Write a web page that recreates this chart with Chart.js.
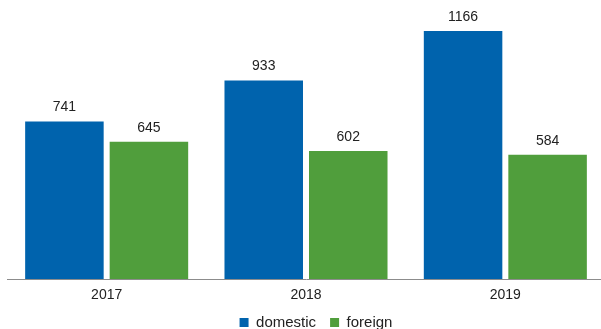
<!DOCTYPE html>
<html><head><meta charset="utf-8">
<script src="https://cdn.jsdelivr.net/npm/chart.js@4/dist/chart.umd.min.js"></script>
<style>html,body{margin:0;padding:0;background:#fff;overflow:hidden;}canvas{display:block;}</style>
</head><body>
<canvas id="c" width="632" height="340"></canvas>
<script>
const categories = ["2017", "2018", "2019"];
const domestic = [741, 933, 1166];
const foreign = [645, 602, 584];
const seriesNames = ["domestic", "foreign"];

const FONT = '"Liberation Sans", Arial, sans-serif';

const valueLabels = {
  id: 'valueLabels',
  afterDatasetsDraw(chart) {
    const ctx = chart.ctx;
    ctx.save();
    ctx.font = '14px ' + FONT;
    ctx.fillStyle = '#222';
    ctx.textAlign = 'center';
    ctx.textBaseline = 'bottom';
    chart.data.datasets.forEach((ds, i) => {
      chart.getDatasetMeta(i).data.forEach((bar, j) => {
        ctx.fillText(String(ds.data[j]), bar.x, bar.y - 7);
      });
    });
    ctx.restore();
  }
};

new Chart(document.getElementById('c'), {
  type: 'bar',
  data: {
    labels: categories,
    datasets: [
      { label: seriesNames[0], data: domestic, backgroundColor: '#0063ad', barPercentage: 0.929, categoryPercentage: 0.848 },
      { label: seriesNames[1], data: foreign, backgroundColor: '#509e3c', barPercentage: 0.929, categoryPercentage: 0.848 }
    ]
  },
  options: {
    responsive: false,
    animation: false,
    layout: { padding: 0 },
    plugins: {
      legend: {
        position: 'bottom',
        labels: {
          boxWidth: 9, boxHeight: 9, padding: 14,
          color: '#222',
          font: { family: FONT, size: 15 }
        }
      },
      tooltip: { enabled: false }
    },
    scales: {
      x: {
        grid: { display: false, drawTicks: false },
        border: { display: true, color: '#8c8c8c', width: 1 },
        ticks: { color: '#222', padding: 8, font: { family: FONT, size: 14 } },
        afterFit(s) { s.height = 22; }
      },
      y: {
        display: true, position: 'left',
        min: 0, max: 1312,
        grid: { display: false }, border: { display: false }, ticks: { display: false },
        afterFit(s) { s.width = 7; }
      },
      y2: {
        type: 'linear', display: true, position: 'right',
        grid: { display: false }, border: { display: false }, ticks: { display: false },
        afterFit(s) { s.width = 27; }
      }
    }
  },
  plugins: [valueLabels]
});
</script>
</body></html>
